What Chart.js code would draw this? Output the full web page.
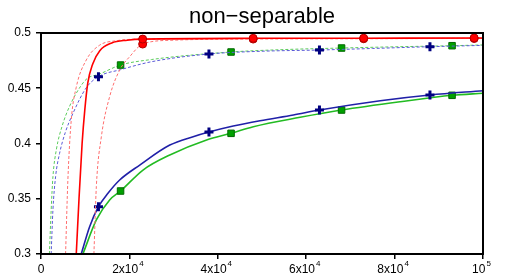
<!DOCTYPE html>
<html>
<head>
<meta charset="utf-8">
<script src="https://cdn.jsdelivr.net/npm/chart.js@4/dist/chart.umd.min.js"></script>
<style>
  html, body { margin: 0; padding: 0; background: #fff; }
  #wrap { width: 507px; height: 276px; }
</style>
</head>
<body>
<div id="wrap"><canvas id="chart"></canvas></div>
<script>
        // curve values
        const redSolidX = [7980, 8600, 9300, 9900, 10600, 11700, 13300, 16000, 19500, 23000, 48000, 73000, 98000, 100000];
        const redSolidY = [0.30, 0.35, 0.40, 0.43, 0.455, 0.472, 0.484, 0.491, 0.4935, 0.4945, 0.4952, 0.4953, 0.4955, 0.4955];
        const redLowX = [5560, 6080, 6840, 7980, 10250, 13270, 17050, 23000, 60000, 100000];
        const redLowY = [0.30, 0.367, 0.421, 0.451, 0.4756, 0.489, 0.493, 0.4945, 0.495, 0.4952];
        const redHighX = [11970, 12520, 13650, 15530, 17800, 20070, 23000, 30000, 48000, 73000, 98000, 100000];
        const redHighY = [0.30, 0.361, 0.406, 0.4424, 0.4665, 0.4786, 0.490, 0.4935, 0.4945, 0.4948, 0.495, 0.495];

        const blueDashX = [2300, 2700, 3300, 4200, 5500, 7200, 10250, 13000, 18000, 25000, 38000, 50000, 63000, 75000, 88000, 100000];
        const blueDashY = [0.30, 0.34, 0.37, 0.391, 0.41, 0.427, 0.4505, 0.4605, 0.4668, 0.474, 0.481, 0.4835, 0.4846, 0.486, 0.4876, 0.4888];
        const greenDashX = [1900, 2300, 2700, 3500, 4800, 6500, 9000, 10500, 13000, 18000, 25000, 43000, 55000, 68000, 80000, 93000, 100000];
        const greenDashY = [0.30, 0.34, 0.37, 0.395, 0.416, 0.434, 0.452, 0.459, 0.4625, 0.471, 0.476, 0.4828, 0.485, 0.4864, 0.4875, 0.4885, 0.4892];

        const blueSolidX = [9110, 11000, 13000, 15150, 17800, 22340, 29140, 34420, 38000, 43490, 49550, 57100, 63000, 76760, 88000, 100000];
        const blueSolidY = [0.30, 0.3247, 0.3428, 0.355, 0.367, 0.3805, 0.3986, 0.4062, 0.4104, 0.4158, 0.4206, 0.4258, 0.4303, 0.4387, 0.4439, 0.4478];
        const greenSolidX = [9480, 12520, 15530, 18000, 23080, 29140, 37460, 43000, 48030, 58620, 68000, 81290, 93000, 100000];
        const greenSolidY = [0.30, 0.3308, 0.3489, 0.357, 0.376, 0.3896, 0.4032, 0.4092, 0.4152, 0.4237, 0.4303, 0.4378, 0.4436, 0.4455];

        // where the symbols sit
        const redMarks = [23000, 48000, 73000, 98000];
        const blueMarks = [13000, 38000, 63000, 88000];
        const greenMarks = [18000, 43000, 68000, 93000];

        const yTicks = [0.3, 0.35, 0.4, 0.45, 0.5];
        const xTicks = [0, 20000, 40000, 60000, 80000, 100000];
        const xTickBase = ['0', '2x10', '4x10', '6x10', '8x10', '10'];
        const xTickExp = ['', '4', '4', '4', '4', '5'];
        const title = 'non\u2212separable';

        const FONT = '"Liberation Sans", Arial, Helvetica, sans-serif';

        function pts(xs, ys) {
            return xs.map((x, i) => ({ x: x, y: ys[i] }));
        }

        function curve(xs, ys, color, width, dashed, marks, style, fill, edge, r, bw) {
            return {
                data: pts(xs, ys),
                borderColor: color,
                borderWidth: width,
                borderDash: dashed ? [3, 2] : [],
                cubicInterpolationMode: 'monotone',
                pointStyle: style || 'circle',
                pointRadius: ctx => (marks && ctx.raw && marks.includes(ctx.raw.x)) ? r : 0,
                pointHoverRadius: 0,
                pointBackgroundColor: fill,
                pointBorderColor: edge,
                pointBorderWidth: bw || 1,
                fill: false
            };
        }

        const frame = {
            id: 'frame',
            afterDraw(chart) {
                const c = chart.ctx, a = chart.chartArea;
                c.save();
                c.strokeStyle = '#000';
                c.lineWidth = 2;
                c.strokeRect(a.left, a.top, a.right - a.left, a.bottom - a.top);
                c.fillStyle = '#000';
                c.textBaseline = 'alphabetic';
                c.textAlign = 'center';
                c.font = '22px ' + FONT;
                c.fillText(title, (a.left + a.right) / 2, 23);
                const xs = chart.scales.x;
                c.textAlign = 'left';
                xTicks.forEach((v, i) => {
                    c.font = '12px ' + FONT;
                    const wb = c.measureText(xTickBase[i]).width;
                    c.font = '8px ' + FONT;
                    const we = xTickExp[i] ? c.measureText(xTickExp[i]).width + 1 : 0;
                    const px = xs.getPixelForValue(v) - (wb + we) / 2 - (we ? 1.5 : 0);
                    c.font = '12px ' + FONT;
                    c.fillText(xTickBase[i], px, 273);
                    if (we) {
                        c.font = '8px ' + FONT;
                        c.fillText(xTickExp[i], px + wb + 1, 266);
                    }
                });
                c.restore();
            }
        };

        new Chart(document.getElementById('chart'), {
            type: 'line',
            data: {
                datasets: [
                    curve(redSolidX, redSolidY, '#ff0000', 1.6, false, redMarks, 'circle', '#ff0000', '#b00000', 4, 1),
                    curve(redHighX, redHighY, '#ff6e6e', 1, true, redMarks, 'circle', '#ff0000', '#b00000', 4, 1),
                    curve(redLowX, redLowY, '#ff6e6e', 1, true, null, 'circle', '#ff0000', '#b00000', 0, 1),
                    curve(blueDashX, blueDashY, '#5a5ad8', 1, true, blueMarks, 'cross', '#000080', '#000080', 4.5, 3),
                    curve(greenDashX, greenDashY, '#5ccc5c', 1, true, greenMarks, 'rect', '#00a000', '#006800', 4.6, 1),
                    curve(blueSolidX, blueSolidY, '#2020a8', 1.6, false, blueMarks, 'cross', '#000080', '#000080', 4.5, 3),
                    curve(greenSolidX, greenSolidY, '#22bb22', 1.6, false, greenMarks, 'rect', '#00a000', '#006800', 4.6, 1)
                ]
            },
            options: {
                responsive: true,
                maintainAspectRatio: false,
                animation: false,
                events: [],
                layout: { padding: { top: 33, right: 24, left: 0, bottom: 0 } },
                plugins: {
                    legend: { display: false },
                    tooltip: { enabled: false },
                    title: { display: false }
                },
                scales: {
                    x: {
                        type: 'linear',
                        min: 0,
                        max: 100000,
                        afterBuildTicks: s => { s.ticks = xTicks.map(v => ({ value: v })); },
                        afterFit: s => { s.height = 22; },
                        border: { display: true, color: '#000', width: 2 },
                        grid: { drawOnChartArea: false, drawTicks: true, tickLength: 5, color: '#000', lineWidth: 1.5 },
                        ticks: { callback: () => '', font: { size: 12 } }
                    },
                    y: {
                        type: 'linear',
                        min: 0.3,
                        max: 0.5,
                        afterBuildTicks: s => { s.ticks = yTicks.map(v => ({ value: v })); },
                        afterFit: s => { s.width = 41; },
                        border: { display: true, color: '#000', width: 2 },
                        grid: { drawOnChartArea: false, drawTicks: true, tickLength: 5, color: '#000', lineWidth: 1.5 },
                        ticks: {
                            color: '#000',
                            padding: 5,
                            font: { family: FONT, size: 12 },
                            callback: v => String(+v.toFixed(2))
                        }
                    }
                }
            },
            plugins: [frame]
        });
</script>
</body>
</html>
